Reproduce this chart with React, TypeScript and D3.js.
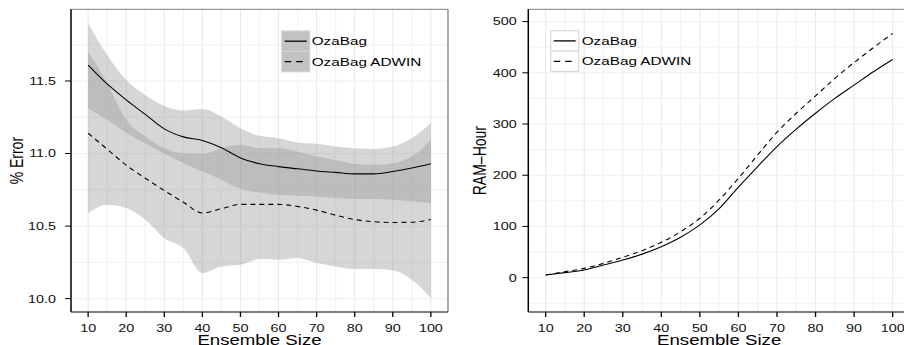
import React from 'react';
import * as d3 from 'd3';

// ---------- data ----------
const ensembleSizes = [10, 15, 20, 25, 30, 35, 40, 45, 50, 55, 60, 65, 70, 75, 80, 85, 90, 95, 100];

const errOzaBag = [11.61, 11.48, 11.37, 11.27, 11.17, 11.115, 11.09, 11.04, 10.97, 10.93, 10.91, 10.895, 10.88, 10.87, 10.86, 10.86, 10.876, 10.9, 10.93];
const errOzaBagHi = [11.897, 11.679, 11.507, 11.404, 11.328, 11.296, 11.307, 11.255, 11.174, 11.122, 11.106, 11.076, 11.067, 11.048, 11.037, 11.032, 11.048, 11.106, 11.209];
const errOzaBagLo = [11.312, 11.232, 11.144, 11.071, 10.998, 10.933, 10.876, 10.819, 10.755, 10.732, 10.716, 10.709, 10.704, 10.693, 10.686, 10.686, 10.681, 10.67, 10.658];

const errAdwin = [11.14, 11.03, 10.92, 10.83, 10.745, 10.665, 10.59, 10.62, 10.65, 10.65, 10.65, 10.635, 10.61, 10.575, 10.545, 10.53, 10.525, 10.527, 10.545];
const errAdwinHi = [11.702, 11.484, 11.232, 11.117, 11.037, 11.002, 10.998, 11.037, 11.06, 11.037, 11.037, 11.014, 10.979, 10.956, 10.929, 10.922, 10.933, 10.979, 11.094];
const errAdwinLo = [10.589, 10.647, 10.624, 10.544, 10.417, 10.349, 10.177, 10.222, 10.234, 10.273, 10.268, 10.28, 10.245, 10.222, 10.204, 10.204, 10.195, 10.131, 10.005];

const ramOzaBag = [5.2, 9.8, 15, 24.7, 34.5, 46, 60.5, 78.8, 103, 135, 177, 217, 256, 290, 321, 350, 376, 402, 426];
const ramAdwin = [5.2, 11.7, 18.2, 28, 39.7, 52.7, 69, 89.8, 116, 151.7, 194, 239.6, 284, 321, 355, 389, 420, 449, 477];

const xTicks = [10, 20, 30, 40, 50, 60, 70, 80, 90, 100];
const xMinor = [15, 25, 35, 45, 55, 65, 75, 85, 95];
const errTicks = [10.0, 10.5, 11.0, 11.5];
const errMinor = [10.25, 10.75, 11.25, 11.75];
const ramTicks = [0, 100, 200, 300, 400, 500];
const ramMinor = [-50, 50, 150, 250, 350, 450];
const seriesNames = ['OzaBag', 'OzaBag ADWIN'];

// ---------- layout ----------
const SX = 1.33; // horizontal text stretch of the original
const FONT = 'Liberation Sans, Arial, Helvetica, sans-serif';
const TOP = 9.3;
const BOTTOM = 312;

type PanelProps = {
  x0: number; x1: number; yDomain: [number, number];
  yTicks: number[]; yMinor: number[]; yFmt: (v: number) => string;
  labelRight: number; yTitle: string; yTitleX: number; clipId: string;
  children: (x: d3.ScaleLinear<number, number>, y: d3.ScaleLinear<number, number>) => React.ReactNode;
};

function Panel({ x0, x1, yDomain, yTicks, yMinor, yFmt, labelRight, yTitle, yTitleX, clipId, children }: PanelProps) {
  const x = d3.scaleLinear().domain([5.5, 104.5]).range([x0, x1]);
  const y = d3.scaleLinear().domain(yDomain).range([BOTTOM, TOP]);
  const cx = (x0 + x1) / 2;
  const cy = (TOP + BOTTOM) / 2;
  return (
    <g>
      <defs>
        <clipPath id={clipId}>
          <rect x={x0} y={TOP} width={x1 - x0} height={BOTTOM - TOP} />
        </clipPath>
      </defs>
      <rect x={x0} y={TOP} width={x1 - x0} height={BOTTOM - TOP} fill="#fff" />
      {/* minor grid */}
      {xMinor.map((v) => (
        <line key={'xm' + v} x1={x(v)} x2={x(v)} y1={TOP} y2={BOTTOM} stroke="#f3f3f3" strokeWidth={1.3} />
      ))}
      {yMinor.map((v) => (
        <line key={'ym' + v} x1={x0} x2={x1} y1={y(v)} y2={y(v)} stroke="#f3f3f3" strokeWidth={1.3} />
      ))}
      {/* major grid */}
      {xTicks.map((v) => (
        <line key={'xg' + v} x1={x(v)} x2={x(v)} y1={TOP} y2={BOTTOM} stroke="#e4e4e4" strokeWidth={0.9} />
      ))}
      {yTicks.map((v) => (
        <line key={'yg' + v} x1={x0} x2={x1} y1={y(v)} y2={y(v)} stroke="#ececec" strokeWidth={0.9} />
      ))}
      <g clipPath={`url(#${clipId})`}>{children(x, y)}</g>
      {/* border */}
      <line x1={x0} x2={x1} y1={TOP} y2={TOP} stroke="#7f7f7f" strokeWidth={1} />
      <line x1={x1} x2={x1} y1={TOP} y2={BOTTOM} stroke="#7f7f7f" strokeWidth={1.3} />
      {/* axes */}
      <line x1={x0} x2={x0} y1={TOP} y2={BOTTOM} stroke="#000" strokeWidth={1.5} />
      <line x1={x0} x2={x1} y1={BOTTOM} y2={BOTTOM} stroke="#000" strokeWidth={1.1} />
      {yTicks.map((v) => (
        <g key={'yt' + v}>
          <line x1={x0 - 6} x2={x0} y1={y(v)} y2={y(v)} stroke="#000" strokeWidth={1} />
          <text transform={`translate(${labelRight},${y(v)}) scale(${SX},1)`} dy="0.36em" textAnchor="end"
            fontSize={10.8} fontFamily={FONT} fill="#111">{yFmt(v)}</text>
        </g>
      ))}
      {xTicks.map((v) => (
        <g key={'xt' + v}>
          <line x1={x(v)} x2={x(v)} y1={BOTTOM} y2={BOTTOM + 5} stroke="#000" strokeWidth={1.3} />
          <text transform={`translate(${x(v)},332.2) scale(${SX},1)`} textAnchor="middle"
            fontSize={10.8} fontFamily={FONT} fill="#111">{v}</text>
        </g>
      ))}
      <text transform={`translate(${cx},344.8) scale(${SX},1)`} textAnchor="middle" fontSize={14}
        fontFamily={FONT} fill="#000">Ensemble Size</text>
      <text transform={`translate(${yTitleX},${cy}) scale(${SX},1) rotate(-90)`} textAnchor="middle" fontSize={14}
        fontFamily={FONT} fill="#000">{yTitle}</text>
    </g>
  );
}

function Legend({ kx, ky, textX, keyFill, keyStroke }: { kx: number; ky: number; textX: number; keyFill: string; keyStroke: string }) {
  const kw = 28;
  const kh = 20.4;
  return (
    <g>
      {seriesNames.map((name, i) => (
        <g key={name}>
          <rect x={kx} y={ky + i * kh} width={kw} height={kh} fill={keyFill} stroke={keyStroke} strokeWidth={1.2} />
          <line x1={kx + 3} x2={kx + kw - 3} y1={ky + i * kh + kh / 2} y2={ky + i * kh + kh / 2}
            stroke="#000" strokeWidth={1.3} strokeDasharray={i === 1 ? '6.5,5' : undefined} />
          <text transform={`translate(${textX},${ky + i * kh + kh / 2}) scale(${SX},1)`} dy="0.36em"
            fontSize={11.5} fontFamily={FONT} fill="#000">{name}</text>
        </g>
      ))}
    </g>
  );
}

export default function App() {
  const idx = ensembleSizes.map((_, i) => i);
  return (
    <svg width={904} height={345} style={{ position: 'absolute', left: 0, top: 0, background: '#fff' }}>
      <rect x={0} y={0} width={904} height={345} fill="#fff" />
      <Panel x0={71} x1={448} yDomain={[9.908, 11.994]} yTicks={errTicks} yMinor={errMinor}
        yFmt={(v) => v.toFixed(1)} labelRight={56} yTitle="% Error" yTitleX={22.5} clipId="clipL">
        {(x, y) => {
          const area = (lo: number[], hi: number[]) =>
            d3.area<number>().x((i) => x(ensembleSizes[i])).y0((i) => y(lo[i])).y1((i) => y(hi[i]))
              .curve(d3.curveMonotoneX)(idx) || '';
          const line = (vals: number[]) =>
            d3.line<number>().x((i) => x(ensembleSizes[i])).y((i) => y(vals[i])).curve(d3.curveMonotoneX)(idx) || '';
          return (
            <g>
              <path d={area(errOzaBagLo, errOzaBagHi)} fill="#999999" fillOpacity={0.4} />
              <path d={area(errAdwinLo, errAdwinHi)} fill="#999999" fillOpacity={0.4} />
              <path d={line(errOzaBag)} fill="none" stroke="#000" strokeWidth={1.1} />
              <path d={line(errAdwin)} fill="none" stroke="#000" strokeWidth={1.1} strokeDasharray="5,4" />
            </g>
          );
        }}
      </Panel>
      <Legend kx={281.7} ky={31} textX={311.7} keyFill="#c2c2c2" keyStroke="#d3d3d3" />

      <Panel x0={528.3} x1={910} yDomain={[-67, 524]} yTicks={ramTicks} yMinor={ramMinor}
        yFmt={(v) => String(v)} labelRight={516.7} yTitle="RAM–Hour" yTitleX={485.5} clipId="clipR">
        {(x, y) => {
          const line = (vals: number[]) =>
            d3.line<number>().x((i) => x(ensembleSizes[i])).y((i) => y(vals[i])).curve(d3.curveMonotoneX)(idx) || '';
          return (
            <g>
              <path d={line(ramOzaBag)} fill="none" stroke="#000" strokeWidth={1.1} />
              <path d={line(ramAdwin)} fill="none" stroke="#000" strokeWidth={1.1} strokeDasharray="5,4" />
            </g>
          );
        }}
      </Panel>
      <Legend kx={550.7} ky={30.7} textX={581.7} keyFill="#ffffff" keyStroke="#d9d9d9" />
    </svg>
  );
}
